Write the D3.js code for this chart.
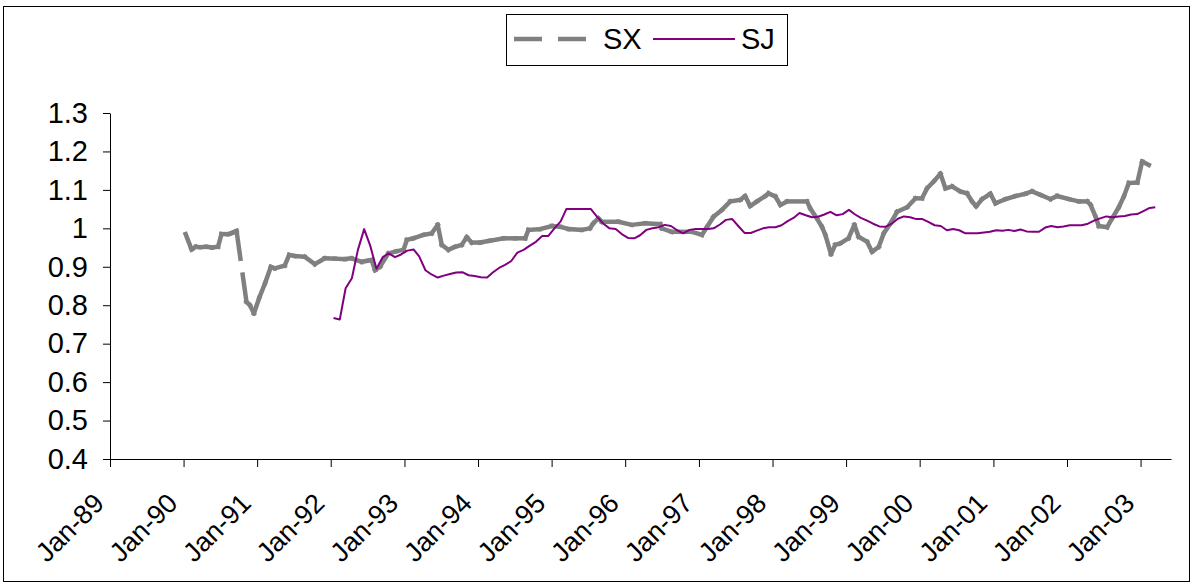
<!DOCTYPE html>
<html><head><meta charset="utf-8">
<script src="https://cdn.jsdelivr.net/npm/d3@7"></script>
<style>body{margin:0;background:#fff}svg{display:block}</style>
</head><body><svg id="c" width="1192" height="584"></svg>
<script>
// ---- data ----
const sxDates = ["1990-01-11","1990-02-10","1990-03-03","1990-03-23","1990-04-23","1990-05-22","1990-06-21","1990-07-08","1990-08-11","1990-08-29","1990-09-21",
"1990-11-09","1990-11-26","1990-12-16","1991-01-12","1991-02-09","1991-03-10","1991-03-30","1991-05-18","1991-06-09","1991-07-07","1991-08-25","1991-10-14","1991-12-02",
"1992-01-22","1992-03-12","1992-04-14","1992-06-03","1992-07-04","1992-07-22","1992-08-08","1992-09-02","1992-09-27","1992-10-13","1992-11-20","1992-12-27",
"1993-01-13","1993-02-14","1993-04-05","1993-05-16","1993-06-15","1993-07-05","1993-08-07","1993-09-09","1993-10-12","1993-11-06","1993-12-01",
"1994-01-11","1994-03-02","1994-05-07","1994-07-04","1994-08-23","1994-09-08","1994-11-05","1995-01-02","1995-02-12","1995-03-26","1995-05-31","1995-07-10",
"1995-07-27","1995-08-21","1995-09-07","1995-11-28","1996-02-03","1996-04-09","1996-06-23","1996-07-01","1996-08-19","1996-11-26",
"1997-01-16","1997-02-10","1997-03-14","1997-04-25","1997-06-05","1997-07-25","1997-08-18","1997-09-12","1997-10-16","1997-11-26","1997-12-12",
"1998-01-15","1998-02-09","1998-03-14","1998-06-21","1998-07-07","1998-08-09","1998-09-03","1998-09-20","1998-10-18","1998-11-08","1998-12-03",
"1999-01-13","1999-02-11","1999-03-04","1999-04-15","1999-05-10","1999-06-12","1999-07-07","1999-08-09","1999-09-11","1999-10-31","1999-12-11",
"2000-01-13","2000-02-07","2000-03-11","2000-04-13","2000-05-08","2000-06-10","2000-07-21","2000-08-23","2000-09-17","2000-10-07","2000-11-06","2000-12-17",
"2001-01-11","2001-03-02","2001-04-21","2001-06-09","2001-07-12","2001-08-22","2001-10-11","2001-11-13",
"2002-01-10","2002-03-01","2002-04-12","2002-04-28","2002-05-23","2002-06-08","2002-07-19","2002-08-13","2002-09-15","2002-10-10","2002-11-04","2002-12-16",
"2003-01-09","2003-02-11"];
const sxValues = [0.985,0.945,0.952,0.951,0.952,0.950,0.952,0.985,0.985,0.988,0.993,
0.809,0.800,0.779,0.820,0.857,0.900,0.896,0.903,0.931,0.928,0.926,0.907,0.922,
0.921,0.920,0.922,0.913,0.916,0.918,0.891,0.900,0.922,0.935,0.940,0.944,
0.970,0.974,0.983,0.987,1.009,0.957,0.944,0.952,0.957,0.977,0.963,
0.963,0.968,0.974,0.974,0.974,0.996,0.998,1.006,1.004,0.998,0.996,1.000,
1.013,1.026,1.017,1.017,1.009,1.013,1.011,1.000,0.991,0.991,
0.983,1.004,1.030,1.048,1.070,1.074,1.084,1.058,1.070,1.084,1.091,
1.083,1.061,1.070,1.070,1.052,1.026,1.004,0.983,0.933,0.957,0.961,
0.974,1.009,0.978,0.965,0.939,0.952,0.987,1.013,1.043,1.055,1.078,
1.078,1.104,1.122,1.142,1.104,1.109,1.096,1.091,1.070,1.057,1.076,1.090,
1.065,1.076,1.084,1.090,1.096,1.087,1.076,1.084,
1.076,1.070,1.070,1.061,1.030,1.006,1.003,1.026,1.055,1.083,1.118,1.119,
1.174,1.165];

const sjStart = "1992-01-15"; // monthly observations
const sjValues = [
0.767,0.763,0.844,0.870,0.944,0.998,0.955,0.895,0.925,0.935,0.925,0.932,
0.942,0.945,0.927,0.891,0.880,0.872,0.877,0.881,0.885,0.886,0.878,0.876,
0.873,0.872,0.885,0.897,0.905,0.915,0.937,0.944,0.955,0.965,0.980,0.980,
1.000,1.018,1.050,1.050,1.050,1.050,1.050,1.030,1.012,1.000,0.998,0.985,
0.975,0.974,0.982,0.996,1.000,1.003,1.009,1.006,0.995,0.987,0.996,0.998,
0.998,0.998,1.000,1.010,1.022,1.024,1.006,0.988,0.988,0.994,1.000,1.003,
1.003,1.008,1.018,1.027,1.040,1.034,1.029,1.030,1.036,1.043,1.034,1.037,
1.048,1.036,1.027,1.020,1.012,1.005,1.004,1.012,1.025,1.031,1.029,1.024,
1.024,1.016,1.008,1.006,0.995,0.998,0.995,0.987,0.987,0.987,0.989,0.991,
0.995,0.994,0.996,0.993,0.997,0.992,0.991,0.991,1.002,1.006,1.003,1.005,
1.008,1.008,1.008,1.012,1.020,1.026,1.031,1.029,1.031,1.032,1.036,1.037,
1.045,1.053,1.055];

const yTickValues = [0.4,0.5,0.6,0.7,0.8,0.9,1.0,1.1,1.2,1.3];
const yTickLabels = ["0.4","0.5","0.6","0.7","0.8","0.9","1","1.1","1.2","1.3"];
const xTickYears = [1989,1990,1991,1992,1993,1994,1995,1996,1997,1998,1999,2000,2001,2002,2003];
const seriesNames = ["SX","SJ"];
const seriesColors = ["#808080","#800080"];

// ---- drawing ----
const FONT = "'Liberation Sans', Arial, sans-serif";
const svg = d3.select("#c");
const parse = d3.timeParse("%Y-%m-%d");

svg.append("rect").attr("x",0).attr("y",0).attr("width",1192).attr("height",584).attr("fill","#fff");
svg.append("rect").attr("x",3.5).attr("y",6.5).attr("width",1186).attr("height",575)
  .attr("fill","none").attr("stroke","#000").attr("stroke-width",1);

const x = d3.scaleTime().domain([new Date(1989,0,1), new Date(2003,5,1)]).range([110,1171]);
const y = d3.scaleLinear().domain([0.4,1.3]).range([459,113]);

// Y axis
const gy = svg.append("g").attr("transform","translate(110,0)")
  .call(d3.axisLeft(y).tickValues(yTickValues).tickSize(7).tickSizeOuter(0)
    .tickPadding(15).tickFormat((d,i)=>yTickLabels[i]));
gy.selectAll("text").attr("font-family",FONT).attr("font-size",29).attr("fill","#000");
gy.selectAll("line,path").attr("stroke","#000");

// X axis
const gx = svg.append("g").attr("transform","translate(0,459)")
  .call(d3.axisBottom(x).tickValues(xTickYears.map(yr=>new Date(yr,0,1))).tickSize(8).tickSizeOuter(0)
    .tickFormat(d3.timeFormat("%b-%y")));
gx.selectAll("line,path").attr("stroke","#000");
gx.selectAll("text").attr("font-family",FONT).attr("font-size",27).attr("fill","#000")
  .attr("x",0).attr("y",0).attr("dy",0).attr("text-anchor","end")
  .attr("transform","translate(-5,46) rotate(-45)");

// SX: dashed heavy line, dash pattern restarting on each segment
const sxPts = sxDates.map((d,i)=>[x(parse(d)), y(sxValues[i])]);
const sxSegs = d3.pairs(sxPts);
svg.append("g").selectAll("line").data(sxSegs).join("line")
  .attr("x1",d=>d[0][0]).attr("y1",d=>d[0][1]).attr("x2",d=>d[1][0]).attr("y2",d=>d[1][1])
  .attr("stroke",seriesColors[0]).attr("stroke-width",4.5).attr("stroke-dasharray","28,16")
  .attr("stroke-linecap","square");

// SJ: thin purple line
const sj0 = parse(sjStart);
const sjData = sjValues.map((v,i)=>({d:d3.timeMonth.offset(sj0,i), v}));
svg.append("path").datum(sjData)
  .attr("d", d3.line().x(d=>x(d.d)).y(d=>y(d.v)))
  .attr("fill","none").attr("stroke",seriesColors[1]).attr("stroke-width",2).attr("stroke-linejoin","round");

// Legend
const lg = svg.append("g");
lg.append("rect").attr("x",506.5).attr("y",14.5).attr("width",281).attr("height",51)
  .attr("fill","#fff").attr("stroke","#000").attr("stroke-width",1);
lg.append("line").attr("x1",514).attr("x2",586).attr("y1",39).attr("y2",39)
  .attr("stroke",seriesColors[0]).attr("stroke-width",4.5).attr("stroke-dasharray","28,16");
lg.append("text").attr("x",603).attr("y",49).text(seriesNames[0])
  .attr("font-family",FONT).attr("font-size",29).attr("fill","#000");
lg.append("line").attr("x1",653).attr("x2",735).attr("y1",39).attr("y2",39)
  .attr("stroke",seriesColors[1]).attr("stroke-width",2);
lg.append("text").attr("x",741).attr("y",49).text(seriesNames[1])
  .attr("font-family",FONT).attr("font-size",29).attr("fill","#000");
</script>
</body></html>
